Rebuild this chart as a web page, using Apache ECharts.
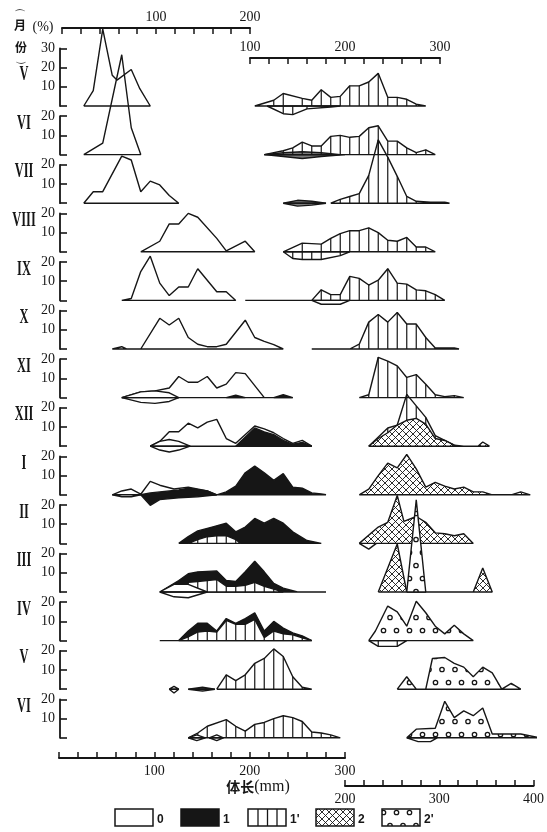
<!DOCTYPE html>
<html><head><meta charset="utf-8">
<script src="https://cdn.jsdelivr.net/npm/echarts@6/dist/echarts.min.js"></script>
<style>html,body{margin:0;padding:0;background:#fff}#c{width:547px;height:832px}</style>
</head><body><div id="c"></div>
<script>
// ---------------- data (length mm, frequency %) ----------------
const months = ['V','VI','VII','VIII','IX','X','XI','XII','I','II','III','IV','V','VI'];
const legendCodes = ['0','1',"1'",'2',"2'"];

// Row V (year 1)
const mayA_0L = [[25,0],[35,8],[45,40],[55,16],[60,13.5],[75,19],[84,9],[95,0]];
const mayA_1pR = [[105,0],[125,3],[135,6.5],[155,4],[165,3],[175,8.5],[185,4.5],[195,5],[205,10.5],[215,10.5],[225,12.5],[235,17],[245,4.5],[255,4.5],[265,3.5],[275,1],[285,0]];
const mayA_1pR_low = [[118,0],[135,-4],[145,-4.5],[160,-1.5],[185,-0.5],[195,0]];
// Row VI
const junA_0L = [[25,0],[45,6],[65,52],[75,14],[85,0]];
const junA_1pR = [[115,0],[135,2],[145,3.5],[155,6.5],[165,4.5],[175,4.5],[185,9.5],[195,10],[205,9],[215,9.5],[225,14],[235,15],[245,7],[255,7],[265,3.5],[275,1],[285,2.5],[295,0]];
const junA_gR_up = [[115,0],[135,1],[155,1.5],[175,1],[195,0]];
const junA_gR_low = [[115,0],[135,-1],[155,-2],[175,-1],[200,0]];
// Row VII
const jul_0L = [[25,0],[35,6],[45,6],[65,24.5],[75,22.5],[85,6],[95,11.5],[105,9.5],[115,4],[125,0]];
const jul_1pR = [[185,0],[195,2],[205,3.5],[215,5],[225,14.5],[235,33],[245,24],[255,14],[265,3.5],[275,1],[290,0.5],[305,0.5],[310,0]];
const jul_gR_up = [[135,0],[150,1.5],[165,1],[180,0]];
const jul_gR_low = [[135,0],[150,-1.5],[165,-1],[180,0]];
// Row VIII
const aug_0L = [[85,0],[105,5.5],[115,14.5],[125,14.5],[135,20],[145,18],[165,7],[175,0.5],[195,5.5],[205,0]];
const aug_1pR = [[135,0],[155,4.5],[175,4],[185,7],[195,9.5],[205,11],[215,11],[225,12.5],[235,10],[245,6],[255,5.5],[265,7.5],[275,2.5],[285,2.5],[295,0]];
const aug_1pR_low = [[135,0],[145,-3.5],[155,-4],[165,-4],[175,-4],[195,-2],[205,0]];
// Row IX
const sep_0L = [[65,0],[75,1],[85,15],[95,23],[105,9],[115,2.5],[125,7],[135,7],[145,16.5],[155,10.5],[165,4.5],[175,4.5],[185,0]];
const sep_1pR = [[95,0],[165,0],[175,5.5],[185,3],[195,3],[205,12.5],[215,11.5],[225,8],[235,10.5],[245,16.5],[255,9],[265,8.5],[275,5.5],[285,5],[295,3],[305,0]];
const sep_wR_low = [[165,0],[175,-2],[195,-2],[205,0]];
// Row X
const oct_0L = [[55,0],[65,1.2],[70,0],[85,0],[105,16],[115,12.5],[125,16],[135,6],[145,2.5],[155,1.2],[165,1.2],[175,2.5],[195,15],[205,6],[215,4],[225,2.3],[235,0]];
const oct_1pR = [[165,0],[205,0],[215,2.5],[225,14],[235,18],[245,14],[255,19],[265,13],[275,13],[285,6],[295,0.5],[315,0.5],[320,0]];
// Row XI
const nov_0L = [[65,0],[85,3],[100,3.5],[115,5],[125,11],[135,8],[145,8],[155,11],[165,5],[175,7],[185,13],[195,12.5],[215,0],[245,0]];
const nov_wL_up = [[65,0],[85,3],[100,3.5],[115,2.5],[125,0]];
const nov_wL_low = [[65,0],[85,-2.5],[100,-3],[115,-2],[125,0]];
const nov_1L_a = [[175,0],[185,1.2],[195,0]];
const nov_1L_b = [[225,0],[235,1.5],[245,0]];
const nov_1pR = [[215,0],[225,1.5],[235,21],[245,19],[255,16.5],[265,10.5],[275,12],[285,7],[295,1.5],[305,0.5],[315,1],[325,0]];
// Row XII
const dec_0L = [[95,0],[105,2.5],[115,7.5],[125,7.5],[135,12],[145,9.5],[155,12.5],[165,14],[175,4],[185,1.5],[205,10.5],[215,9],[225,7],[235,4],[245,1.5],[255,3],[265,0]];
const dec_1L = [[185,0],[205,9.5],[215,7.5],[225,6],[235,3],[245,1],[255,2],[265,0]];
const dec_wL_up = [[95,0],[105,2.5],[115,3.5],[125,2.5],[137,0]];
const dec_wL_low = [[95,0],[105,-2],[115,-3],[125,-2],[137,0]];
const dec_1pR = [[225,0],[245,9.5],[255,11],[265,27],[275,21],[285,15],[295,5.5],[305,3],[315,0.5],[320,0]];
const dec_2R = [[225,0],[235,4],[245,7],[255,11],[265,13.5],[275,14.5],[285,11.5],[295,4],[305,3],[315,0.5],[325,0],[340,0],[345,2.2],[352,0]];
// Row I
const jan_0L = [[55,0],[65,2],[75,3],[85,0.3],[95,7],[105,5],[120,3],[135,4],[155,2],[165,0]];
const jan_wL_low = [[55,0],[65,-1],[75,-1],[85,0]];
const jan_1L = [[85,0],[95,1],[105,1.5],[125,2.5],[135,3.5],[155,2],[165,0],[175,1.5],[185,4.5],[195,11.5],[205,15],[215,11.5],[225,7.5],[235,11],[245,4],[255,3.5],[265,1],[275,0.4],[280,0]];
const jan_1L_low = [[85,0],[95,-5.5],[105,-2.5],[125,-1.5],[145,-1],[165,0]];
const jan_2R = [[215,0],[225,3],[235,10],[245,16.5],[255,14],[265,21],[275,13.5],[285,4],[295,6.5],[305,4.5],[315,3],[325,4],[335,1.5],[345,1.5],[355,0],[375,0],[385,1.5],[395,0]];
// Row II
const feb_1L = [[125,0],[135,3.5],[145,6.5],[160,8.5],[175,10.5],[185,6],[195,8.5],[205,13],[215,10.5],[225,13],[235,10.5],[245,6],[260,1.5],[275,0]];
const feb_1pL = [[135,0],[145,2],[155,3.5],[165,4],[175,4],[185,2],[190,0]];
const feb_2R = [[215,0],[235,8.5],[245,11],[255,25],[262,11.5],[275,14],[285,11],[295,5.5],[305,5],[315,4],[325,5],[335,0]];
const feb_wR_low = [[215,0],[225,-3],[233,0]];
// Row III
const mar_1L = [[105,0],[125,6],[135,9.5],[145,10.5],[165,11],[175,6],[185,5.5],[195,10.5],[205,16],[215,10.5],[225,4.5],[235,2],[250,0],[280,0]];
const mar_1pL = [[125,0],[135,5],[145,5.5],[155,6],[165,6.5],[175,3],[185,3],[195,3.5],[205,5],[215,3],[225,1.5],[235,0]];
const mar_wL_up = [[105,0],[120,4],[135,4],[155,0]];
const mar_wL_low = [[105,0],[120,-2.5],[135,-3],[155,0]];
const mar_2R = [[235,0],[255,25],[265,0],[335,0],[345,12.5],[355,0]];
const mar_2pR = [[265,0],[275,48],[285,0]];
// Row IV
const apr_1L = [[105,0],[125,0],[135,5],[145,9],[155,9],[165,5],[175,11.5],[185,9],[195,11.5],[205,14.5],[215,5],[225,10],[235,6.5],[245,4],[255,2.5],[265,0]];
const apr_1pL = [[125,0],[135,2],[145,4.5],[155,5],[165,4.5],[175,10.5],[185,8.5],[195,8.5],[205,11],[215,1.5],[225,5],[235,3.5],[245,3],[255,1.5],[265,0]];
const apr_2pR = [[225,0],[232,5],[245,18],[255,15],[265,7.5],[275,20.5],[285,14.5],[295,7.5],[305,3.5],[315,8],[325,3.5],[335,0]];
const apr_1pR_low = [[225,0],[235,-3],[255,-3],[265,0]];
// Row V (year 2)
const mayB_1pL = [[165,0],[175,7.5],[185,4.5],[195,7.5],[205,13.5],[215,16],[225,21],[235,17],[245,6.5],[255,1],[265,0]];
const mayB_wL_up = [[115,0],[120,1.5],[125,0]];
const mayB_wL_low = [[115,0],[120,-2],[125,0]];
const mayB_gL_up = [[135,0],[150,1],[163,0]];
const mayB_gL_low = [[135,0],[150,-1],[163,0]];
const mayB_2pR = [[255,0],[265,6.5],[275,0],[285,0],[292,16],[305,16.5],[315,13.5],[325,11.5],[335,6.5],[345,11.5],[355,8.5],[365,0],[375,3],[385,0]];
// Row VI (year 2)
const junB_1pL = [[135,0],[145,2.5],[155,6],[175,9.5],[185,6],[195,3.5],[205,7],[215,8],[225,10],[235,11.5],[245,10.5],[255,8.5],[265,3],[275,2.5],[285,1.5],[295,0]];
const junB_wL1_up = [[135,0],[144,1.5],[153,0]];
const junB_wL1_low = [[135,0],[144,-1.5],[153,0]];
const junB_wL2_up = [[157,0],[165,1.5],[172,0]];
const junB_wL2_low = [[157,0],[165,-1.5],[172,0]];
const junB_2pR = [[265,0],[275,4.5],[295,5],[305,19],[315,10.5],[325,14],[335,11.5],[345,15.5],[355,2],[365,2],[375,2],[385,2],[405,0]];
const junB_wR_low = [[265,0],[277,-2],[290,-2],[297,0]];

// table: [row, panel, style, data]
const shapes = [
  [0,'L','o',mayA_0L],[0,'R','v',mayA_1pR],[0,'R','v',mayA_1pR_low],
  [1,'L','o',junA_0L],[1,'R','g',junA_gR_up],[1,'R','g',junA_gR_low],[1,'R','v',junA_1pR],
  [2,'L','o',jul_0L],[2,'R','g',jul_gR_up],[2,'R','g',jul_gR_low],[2,'R','v',jul_1pR],
  [3,'L','o',aug_0L],[3,'R','v',aug_1pR],[3,'R','v',aug_1pR_low],
  [4,'L','o',sep_0L],[4,'R','v',sep_1pR],[4,'R','w',sep_wR_low],
  [5,'L','o',oct_0L],[5,'R','v',oct_1pR],
  [6,'L','o',nov_0L],[6,'L','w',nov_wL_up],[6,'L','w',nov_wL_low],[6,'L','b',nov_1L_a],[6,'L','b',nov_1L_b],[6,'R','v',nov_1pR],
  [7,'L','o',dec_0L],[7,'L','b',dec_1L],[7,'L','w',dec_wL_up],[7,'L','w',dec_wL_low],[7,'R','v',dec_1pR],[7,'R','x',dec_2R],
  [8,'L','o',jan_0L],[8,'L','w',jan_wL_low],[8,'L','b',jan_1L],[8,'L','b',jan_1L_low],[8,'R','x',jan_2R],
  [9,'L','b',feb_1L],[9,'L','vw',feb_1pL],[9,'R','x',feb_2R],[9,'R','w',feb_wR_low],
  [10,'L','b',mar_1L],[10,'L','vw',mar_1pL],[10,'L','w',mar_wL_up],[10,'L','w',mar_wL_low],[10,'R','x',mar_2R],[10,'R','d',mar_2pR],
  [11,'L','b',apr_1L],[11,'L','vw',apr_1pL],[11,'R','d',apr_2pR],[11,'R','vw',apr_1pR_low],
  [12,'L','v',mayB_1pL],[12,'L','w',mayB_wL_up],[12,'L','w',mayB_wL_low],[12,'L','g',mayB_gL_up],[12,'L','g',mayB_gL_low],[12,'R','d',mayB_2pR],
  [13,'L','v',junB_1pL],[13,'L','w',junB_wL1_up],[13,'L','w',junB_wL1_low],[13,'L','w',junB_wL2_up],[13,'L','w',junB_wL2_low],[13,'R','d',junB_2pR],[13,'R','w',junB_wR_low]
];

// ---------------- patterns ----------------
const INK = '#161616';
function crossCanvas(){
  const s=7, c=document.createElement('canvas'); c.width=c.height=s;
  const g=c.getContext('2d'); g.fillStyle='#fff'; g.fillRect(0,0,s,s);
  g.strokeStyle=INK; g.lineWidth=0.9; g.beginPath();
  for (const k of [-s,0,s]) { g.moveTo(k,0); g.lineTo(k+s,s); g.moveTo(k+s,0); g.lineTo(k,s); }
  g.stroke(); return c;
}
function dotCanvas(){
  const w=13,h=26,c=document.createElement('canvas'); c.width=w; c.height=h;
  const g=c.getContext('2d'); g.fillStyle='#fff'; g.fillRect(0,0,w,h);
  g.strokeStyle=INK; g.lineWidth=1.3;
  for (const p of [[6.5,6.5],[0,19.5],[13,19.5]]) { g.beginPath(); g.arc(p[0],p[1],2.2,0,Math.PI*2); g.stroke(); }
  return c;
}
const crossPat = {image: crossCanvas(), repeat:'repeat'};
const dotPat = {image: dotCanvas(), repeat:'repeat'};

const STYLE = {
  o:{fill:null, z:2, bars:false},
  g:{fill:'#7a7a7a', z:3, bars:false},
  v:{fill:null, z:3, bars:true},
  b:{fill:INK, z:5, bars:false},
  vw:{fill:'#fff', z:6, bars:true},
  w:{fill:'#fff', z:8, bars:false},
  x:{fill:crossPat, z:9, bars:false},
  d:{fill:dotPat, z:10, bars:false}
};

// ---------------- layout ----------------
const BASE0 = 106, ROWSTEP = 48.6, PX10 = 19.2;
const grid=[], xAxis=[], yAxis=[], series=[];
months.forEach((m,r)=>{
  const base = BASE0 + r*ROWSTEP, ymax = r===0 ? 30 : 20, h = PX10*ymax/10;
  grid.push({left:60, width:475, top:base-h, height:h});
  xAxis.push({gridIndex:r, type:'value', min:0, max:500, show:false});
  xAxis.push({gridIndex:r, type:'value', min:-100, max:400, show:false});
  yAxis.push({gridIndex:r, type:'value', min:0, max:ymax, interval:10,
    axisLine:{show:true, lineStyle:{color:INK, width:1.8}},
    axisTick:{show:true, inside:true, length:7, lineStyle:{color:INK, width:1.6}},
    axisLabel:{formatter:v=>v===0?'':String(v), color:INK, fontFamily:'Liberation Serif', fontSize:14, margin:5},
    splitLine:{show:false}});
});

shapes.forEach(([r,panel,st,arr])=>{
  const S = STYLE[st];
  const xi = r*2 + (panel==='R'?1:0);
  const closed = arr.concat([[arr[0][0],0]]);
  const s = {type:'line', xAxisIndex:xi, yAxisIndex:r, data:closed, symbol:'none', showSymbol:false,
    clip:false, silent:true, z:S.z, lineStyle:{color:INK, width:1.4}};
  if (S.fill) s.areaStyle = {color:S.fill, opacity:1};
  series.push(s);
  if (S.bars) series.push({type:'bar', xAxisIndex:xi, yAxisIndex:r, data:arr, barWidth:1.2, barGap:'-100%',
    itemStyle:{color:INK}, clip:false, silent:true, z:S.z+1});
});

// outer scale axes
function scaleAxis(gi, left, width, top, min, max, pos){
  grid.push({left, width, top, height:10});
  xAxis.push({gridIndex:gi, type:'value', min, max, interval:20, position:pos,
    axisLine:{show:true, onZero:false, lineStyle:{color:INK, width:2}},
    axisTick:{show:true, inside:true, length:6, lineStyle:{color:INK, width:1.5}},
    axisLabel:{formatter:v=>v===min && min===0 ? '' : (v%100===0 && v!==min || (min!==0 && v===min) ? String(v) : ''),
      color:INK, fontFamily:'Liberation Serif', fontSize:14, margin:pos==='top'?4:6},
    splitLine:{show:false}});
  yAxis.push({gridIndex:gi, type:'value', min:0, max:1, show:false});
}
let gi = months.length;
scaleAxis(gi++, 62, 188, 28, 0, 200, 'top');
scaleAxis(gi++, 250, 190, 58, 100, 300, 'top');
scaleAxis(gi++, 59, 286, 748, 0, 300, 'bottom');
scaleAxis(gi++, 345, 190, 776, 200, 400, 'bottom');

// ---------------- texts & legend ----------------
const graphic = [];
months.forEach((m,r)=>{
  const base = BASE0 + r*ROWSTEP;
  graphic.push({type:'text', x:24, y:base-31, scaleX:0.62, silent:true,
    style:{text:m, fill:INK, font:'bold 20px "Liberation Serif"', textAlign:'center', textVerticalAlign:'middle'}});
});
graphic.push({type:'text', x:20, y:16, silent:true, style:{text:'⌒', fill:INK, font:'12px "DejaVu Sans"', textAlign:'center', textVerticalAlign:'middle'}});
graphic.push({type:'text', x:20, y:25, silent:true, style:{text:'月', fill:INK, font:'bold 12px "Noto Sans CJK SC"', textAlign:'center', textVerticalAlign:'middle'}});
graphic.push({type:'text', x:43, y:27, silent:true, style:{text:'(%)', fill:INK, font:'14px "Liberation Serif"', textAlign:'center', textVerticalAlign:'middle'}});
graphic.push({type:'text', x:21, y:47, silent:true, style:{text:'份', fill:INK, font:'bold 12px "Noto Sans CJK SC"', textAlign:'center', textVerticalAlign:'middle'}});
graphic.push({type:'text', x:21, y:57, rotation:Math.PI, silent:true, style:{text:'⌒', fill:INK, font:'12px "DejaVu Sans"', textAlign:'center', textVerticalAlign:'middle'}});
graphic.push({type:'text', x:258, y:787, silent:true, style:{text:'{a|体长}{b|(mm)}', textAlign:'center', textVerticalAlign:'middle',
  rich:{a:{fontFamily:'Noto Sans CJK SC', fontWeight:'bold', fontSize:14, fill:INK, color:INK},
        b:{fontFamily:'Liberation Serif', fontSize:16, fill:INK, color:INK}}}});

const legX = [115,181,248,316,382];
const legFill = ['#fff', INK, '#fff', crossPat, dotPat];
legX.forEach((x,i)=>{
  graphic.push({type:'rect', silent:true, shape:{x:x, y:809, width:38, height:17}, style:{fill:legFill[i], stroke:INK, lineWidth:1.5}});
  graphic.push({type:'text', x:x+42, y:820, silent:true, style:{text:legendCodes[i], fill:INK, font:'bold 12px "Liberation Sans"', textAlign:'left', textVerticalAlign:'middle'}});
});
[10,19.5,29].forEach(dx=>graphic.push({type:'line', silent:true, shape:{x1:248+dx, y1:809, x2:248+dx, y2:826}, style:{stroke:INK, lineWidth:1.3}}));

const chart = echarts.init(document.getElementById('c'), null, {renderer:'canvas', width:547, height:832});
chart.setOption({animation:false, backgroundColor:'#fff', grid, xAxis, yAxis, series, graphic});
</script></body></html>
